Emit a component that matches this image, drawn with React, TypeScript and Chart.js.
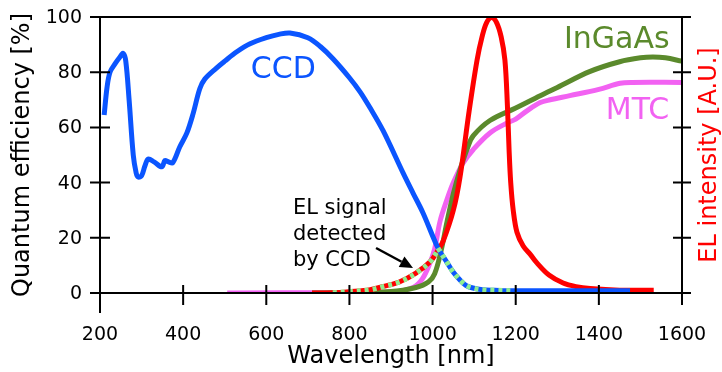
import React, { useEffect, useRef } from "react";
import { Chart, registerables } from "chart.js";
Chart.register(...registerables);

// ---- data ----
const ccdNm = [210, 217, 224, 236, 248, 256, 262, 270, 280, 287, 292, 300, 308, 316, 330, 349, 356, 365, 375, 392, 409, 424, 440, 452, 480, 500, 530, 561, 600, 630, 657, 700, 730, 761, 800, 826, 850, 881, 929, 953, 977, 1013, 1035, 1050, 1066, 1080, 1097, 1120, 1150, 1191, 1300, 1475];
const ccdQE = [64.5, 74.6, 80, 83, 85.5, 86.8, 84, 70, 50, 43.5, 42, 42.5, 46, 48.5, 47.5, 45.7, 48, 47.5, 47.2, 53, 58, 65, 74, 77.5, 81.5, 84, 87.5, 90.3, 92.5, 93.7, 94.2, 92.5, 89.3, 84.8, 78, 72.8, 67, 58.8, 43.5, 36.2, 29, 16.3, 11, 7.5, 4.7, 2.8, 1.8, 1.2, 1, 0.8, 0.8, 0.8];

const elNm = [710, 760, 800, 850, 880, 920, 960, 994, 1013, 1026, 1050, 1066, 1088, 1107, 1119, 1130, 1142, 1154, 1165, 1174, 1180, 1184, 1188, 1194, 1203, 1218, 1235, 1251, 1280, 1314, 1345, 1379, 1450, 1532];
const elInt = [0, 0.1, 0.5, 1.2, 2.3, 4, 7.2, 11.3, 15.5, 19, 30, 42, 66, 84.4, 92.8, 98, 99.8, 98, 92.8, 84.4, 68, 52, 40, 30, 22, 17, 14, 10.9, 6.5, 3.6, 2.3, 1.6, 1, 1];

const ingaasNm = [710, 900, 960, 990, 1005, 1020, 1035, 1050, 1066, 1085, 1098, 1138, 1200, 1259, 1300, 1379, 1450, 1500, 1530, 1560, 1600];
const ingaasQE = [0, 0.5, 2, 4, 7, 15, 26, 36, 44.6, 53, 57, 62.5, 67, 71.5, 74.5, 80.3, 83.8, 85.2, 85.5, 85.2, 84];

const mtcNm = [506, 900, 953, 975, 994, 1005, 1018, 1035, 1050, 1073, 1098, 1138, 1179, 1200, 1227, 1259, 1283, 1330, 1400, 1451, 1480, 1600];
const mtcQE = [0, 0.3, 2, 5, 11, 16, 26, 34, 40, 47, 52, 58, 61.6, 63, 66, 69, 70, 71.5, 73.8, 76, 76.3, 76.3];

// ranges where the EL signal is detected by the CCD (dotted segments)
const elDetectedRange = [760, 1013];
const ccdDetectedRange = [1013, 1191];

const xTickStep = 200;
const yTickStep = 20;

// ---- styles ----
const FONT = "'DejaVu Sans', sans-serif";
const BLUE = "#0b55ff";
const RED = "#ff0000";
const GREEN = "#5b8a2c";
const PINK = "#f262f2";
const LIGHTGREEN = "#90ee90";

// text annotations placed in data coordinates
const curveLabels = [
  { text: "CCD", x: 641, y: 80.6, color: BLUE },
  { text: "InGaAs", x: 1443, y: 91.5, color: GREEN },
  { text: "MTC", x: 1493, y: 66, color: PINK },
];
const noteLines = ["EL signal", "detected", "by CCD"];
const noteAnchor = { x: 664, y: 30.5, dy: 9.3 };
const arrowFrom = { x: 864, y: 16.3 };
const arrowTo = { x: 953, y: 9.1 };

export default function App() {
  const ref = useRef<HTMLCanvasElement>(null);

  useEffect(() => {
    const pts = (xs: number[], ys: number[]) => xs.map((x, i) => ({ x, y: ys[i] }));
    const sub = (xs: number[], ys: number[], r: number[]) =>
      pts(xs, ys).filter((p) => p.x >= r[0] && p.x <= r[1]);

    const base = {
      fill: false,
      pointRadius: 0,
      borderWidth: 5,
      tension: 0.35,
      borderCapStyle: "butt" as const,
      borderJoinStyle: "round" as const,
    };

    const decor = {
      id: "decor",
      afterDatasetsDraw(chart: any) {
        const { ctx, chartArea, scales } = chart;
        const { left, right, top, bottom } = chartArea;
        const x = scales.x, y = scales.y, y2 = scales.y2;
        ctx.save();
        // frame
        ctx.strokeStyle = "#000";
        ctx.lineWidth = 2;
        ctx.lineCap = "butt";
        ctx.lineJoin = "miter";
        ctx.beginPath();
        ctx.moveTo(left, bottom + 20);
        ctx.lineTo(left, top);
        ctx.lineTo(right, top);
        ctx.lineTo(right, bottom + 12);
        ctx.moveTo(left, bottom);
        ctx.lineTo(right, bottom);
        x.ticks.forEach((t: any) => {
          const px = x.getPixelForValue(t.value);
          ctx.moveTo(px, bottom - 8);
          ctx.lineTo(px, bottom + 12);
        });
        y.ticks.forEach((t: any) => {
          const py = y.getPixelForValue(t.value);
          ctx.moveTo(left - 10, py);
          ctx.lineTo(left + 10, py);
        });
        y2.ticks.forEach((t: any) => {
          const py = y2.getPixelForValue(t.value);
          ctx.moveTo(right - 9, py);
          ctx.lineTo(right + 9, py);
        });
        ctx.stroke();

        // tick labels
        ctx.fillStyle = "#000";
        ctx.font = `19px ${FONT}`;
        ctx.textBaseline = "middle";
        ctx.textAlign = "center";
        x.ticks.forEach((t: any) => {
          ctx.fillText(String(t.value), x.getPixelForValue(t.value), bottom + 42);
        });
        ctx.textAlign = "right";
        y.ticks.forEach((t: any) => {
          ctx.fillText(String(t.value), left - 18, y.getPixelForValue(t.value) + 1);
        });

        // axis titles
        ctx.textAlign = "center";
        ctx.textBaseline = "middle";
        ctx.font = `24px ${FONT}`;
        ctx.fillText("Wavelength [nm]", (left + right) / 2, bottom + 64);
        const midY = (top + bottom) / 2;
        ctx.save();
        ctx.translate(23, midY);
        ctx.rotate(-Math.PI / 2);
        ctx.fillText("Quantum efficiency [%]", 0, 0);
        ctx.restore();
        ctx.save();
        ctx.translate(right + 28, midY);
        ctx.rotate(-Math.PI / 2);
        ctx.fillStyle = RED;
        ctx.fillText("EL intensity [A.U.]", 0, 0);
        ctx.restore();

        // curve labels
        ctx.font = `30px ${FONT}`;
        curveLabels.forEach((l) => {
          ctx.fillStyle = l.color;
          ctx.fillText(l.text, x.getPixelForValue(l.x), y.getPixelForValue(l.y));
        });

        // note
        ctx.font = `21px ${FONT}`;
        ctx.fillStyle = "#000";
        ctx.textAlign = "left";
        noteLines.forEach((s, i) => {
          ctx.fillText(s, x.getPixelForValue(noteAnchor.x), y.getPixelForValue(noteAnchor.y - i * noteAnchor.dy));
        });

        // arrow
        const x0 = x.getPixelForValue(arrowFrom.x), y0 = y.getPixelForValue(arrowFrom.y);
        const x1 = x.getPixelForValue(arrowTo.x), y1 = y.getPixelForValue(arrowTo.y);
        const ang = Math.atan2(y1 - y0, x1 - x0);
        const hl = 13, hw = 6;
        const bx = x1 - hl * Math.cos(ang), by = y1 - hl * Math.sin(ang);
        ctx.strokeStyle = "#000";
        ctx.lineWidth = 2.5;
        ctx.beginPath();
        ctx.moveTo(x0, y0);
        ctx.lineTo(bx, by);
        ctx.stroke();
        ctx.beginPath();
        ctx.moveTo(x1, y1);
        ctx.lineTo(bx + hw * Math.sin(ang), by - hw * Math.cos(ang));
        ctx.lineTo(bx - hw * Math.sin(ang), by + hw * Math.cos(ang));
        ctx.closePath();
        ctx.fill();
        ctx.restore();
      },
    };

    const hiddenTicks = { display: false };
    const chart = new Chart(ref.current as HTMLCanvasElement, {
      type: "line",
      data: {
        datasets: [
          { ...base, label: "CCD detected", data: sub(ccdNm, ccdQE, ccdDetectedRange), borderColor: LIGHTGREEN, borderDash: [4, 4], order: 0, yAxisID: "y" },
          { ...base, label: "CCD", data: pts(ccdNm, ccdQE), borderColor: BLUE, order: 1, yAxisID: "y" },
          { ...base, label: "EL detected", data: sub(elNm, elInt, elDetectedRange), borderColor: LIGHTGREEN, borderDash: [4, 4], order: 2, yAxisID: "y2" },
          { ...base, label: "EL", data: pts(elNm, elInt), borderColor: RED, order: 3, yAxisID: "y2" },
          { ...base, label: "InGaAs", data: pts(ingaasNm, ingaasQE), borderColor: GREEN, order: 4, yAxisID: "y" },
          { ...base, label: "MTC", data: pts(mtcNm, mtcQE), borderColor: PINK, order: 5, yAxisID: "y" },
        ] as any,
      },
      options: {
        animation: false,
        responsive: false,
        events: [],
        layout: { padding: { top: 17, left: 0, right: 0, bottom: 0 } },
        plugins: { legend: { display: false }, tooltip: { enabled: false } },
        scales: {
          x: {
            type: "linear",
            position: "bottom",
            min: 200,
            max: 1600,
            ticks: { stepSize: xTickStep, ...hiddenTicks },
            grid: { display: false, drawTicks: false },
            border: { display: false },
            afterFit: (s: any) => { s.height = 79; },
          },
          y: {
            position: "left",
            min: 0,
            max: 100,
            ticks: { stepSize: yTickStep, ...hiddenTicks },
            grid: { display: false, drawTicks: false },
            border: { display: false },
            afterFit: (s: any) => { s.width = 100; },
          },
          y2: {
            position: "right",
            min: 0,
            max: 100,
            ticks: { stepSize: yTickStep, ...hiddenTicks },
            grid: { display: false, drawTicks: false },
            border: { display: false },
            afterFit: (s: any) => { s.width = 40; },
          },
        },
      } as any,
      plugins: [decor],
    });
    return () => chart.destroy();
  }, []);

  return (
    <div style={{ position: "absolute", left: 0, top: 0, width: 722, height: 372, background: "#fff" }}>
      <canvas ref={ref} width={722} height={372} style={{ display: "block" }} />
    </div>
  );
}
